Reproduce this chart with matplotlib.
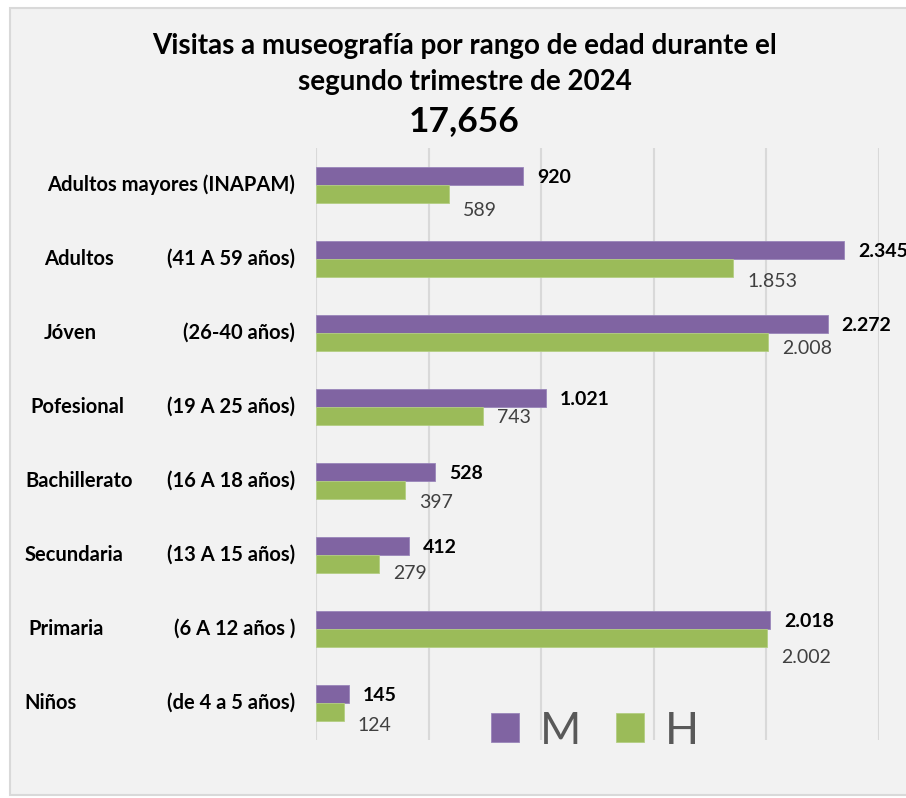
import matplotlib
matplotlib.use("Agg")
import matplotlib.pyplot as plt
from matplotlib.patches import Rectangle
from matplotlib.transforms import blended_transform_factory

plt.rcParams["font.family"] = ["Lato", "DejaVu Sans"]

# data
grupos = ["Adultos mayores (INAPAM)", "Adultos", "Jóven", "Pofesional",
          "Bachillerato", "Secundaria", "Primaria", "Niños"]
rangos = ["", "(41 A 59 años)", "(26-40 años)", "(19 A 25 años)",
          "(16 A 18 años)", "(13 A 15 años)", "(6 A 12 años )", "(de 4 a 5 años)"]
mujeres = [920, 2345, 2272, 1021, 528, 412, 2018, 145]
hombres = [589, 1853, 2008, 743, 397, 279, 2002, 124]
total = "17,656"

# layout
W, H = 906, 798
name_x = [None, 44, 44, 30, 25, 25, 28, 24]      # px, left edge of group names
h_drop = [12, 10, 5, 1, 9, 7, 14, 10]            # pt, H label drop below bar
purple = "#8064A2"
green = "#9BBB59"
grid_c = "#D9D9D9"

fig = plt.figure(figsize=(W / 100, H / 100), dpi=100, facecolor="white")
fig.patches.append(Rectangle((10 / W, 1 - 795 / H), 1.0, (795 - 8) / H,
                             transform=fig.transFigure, facecolor="#F2F2F2",
                             edgecolor=grid_c, linewidth=1.5, zorder=-1))

ax = fig.add_axes([316 / W, 1 - 740 / H, (879 - 316) / W, 592 / H])
ax.set_facecolor("none")
ax.set_xlim(0, 2500)
ax.set_ylim(len(grupos), 0)
for s in ax.spines.values():
    s.set_visible(False)
ax.set_xticks([0, 500, 1000, 1500, 2000, 2500])
ax.set_yticks([])
ax.tick_params(axis="x", length=0, labelbottom=False)
ax.grid(axis="x", color=grid_c, linewidth=1.5)
ax.set_axisbelow(True)

bh = 0.243
pos = [i + 0.5 for i in range(len(grupos))]
bm = ax.barh([p - bh / 2 for p in pos], mujeres, height=bh, color=purple,
             edgecolor="#9A85BA", linewidth=0.6, label="M")
bhh = ax.barh([p + bh / 2 for p in pos], hombres, height=bh, color=green,
              edgecolor="#B3CE82", linewidth=0.6, label="H")


def fmt(v):
    return f"{v:,}".replace(",", ".")


for i, p in enumerate(pos):
    ax.annotate(fmt(mujeres[i]), (mujeres[i], p - bh / 2), xytext=(10, -1),
                textcoords="offset points", ha="left", va="center",
                fontsize=14, fontweight="bold", color="black",
                annotation_clip=False)
    ax.annotate(fmt(hombres[i]), (hombres[i], p + bh / 2), xytext=(10, -h_drop[i]),
                textcoords="offset points", ha="left", va="center",
                fontsize=14, color="#404040")

# category labels
tr = blended_transform_factory(fig.transFigure, ax.transData)
for i, p in enumerate(pos):
    if rangos[i]:
        ax.text(name_x[i] / W, p, grupos[i], transform=tr, ha="left",
                va="center", fontsize=14.5, fontweight="bold")
        ax.text(295 / W, p, rangos[i], transform=tr, ha="right",
                va="center", fontsize=14.5, fontweight="bold")
    else:
        ax.text(295 / W, p, grupos[i], transform=tr, ha="right",
                va="center", fontsize=14.5, fontweight="bold")

# titles
fig.text(465 / W, 1 - 46 / H, "Visitas a museografía por rango de edad durante el",
         ha="center", va="center", fontsize=20, fontweight="bold")
fig.text(465 / W, 1 - 82 / H, "segundo trimestre de 2024",
         ha="center", va="center", fontsize=20, fontweight="bold")
fig.text(464 / W, 1 - 121 / H, total, ha="center", va="center",
         fontsize=25.5, fontweight="bold")

ax.legend(handles=[bm, bhh], labels=["M", "H"], ncol=2, frameon=False,
          loc="center", bbox_to_anchor=(595 / W, 1 - 731 / H),
          bbox_transform=fig.transFigure, fontsize=32, labelcolor="#595959",
          handlelength=0.63, handleheight=0.63, handletextpad=0.45,
          columnspacing=0.8)

fig.savefig("out.png", dpi=100, facecolor="white")
